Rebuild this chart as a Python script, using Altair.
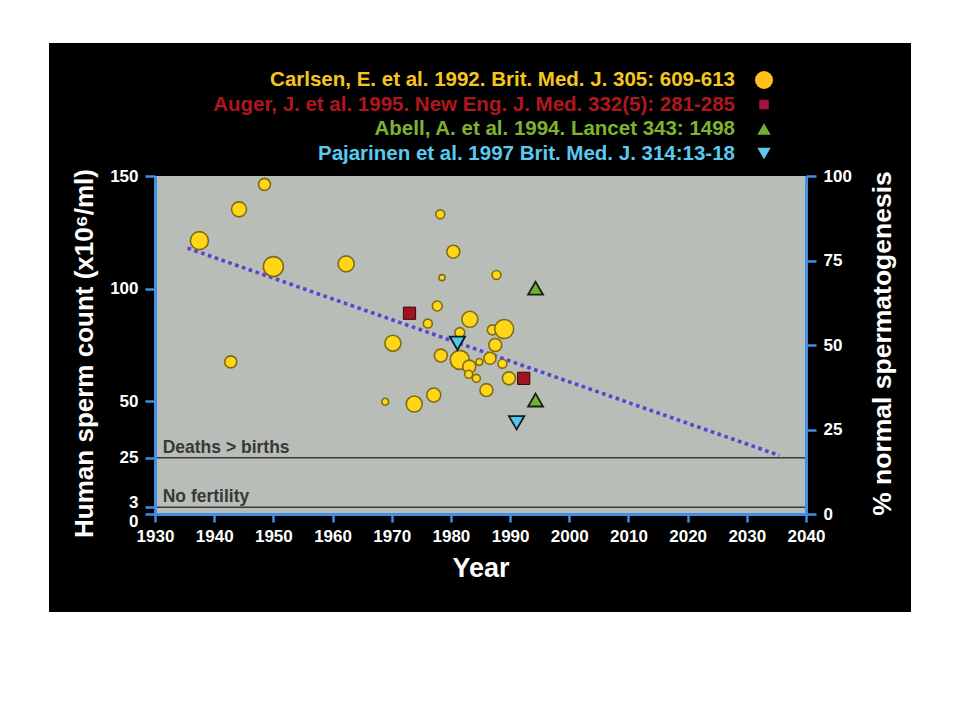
import altair as alt
import pandas as pd

W, H = 651, 338

# ---------------- data ----------------
carlsen_year = [1937.5, 1942.8, 1944.2, 1948.5, 1950.0, 1962.3, 1968.9, 1970.2, 1973.8, 1976.1,
                1977.1, 1977.7, 1978.2, 1978.3, 1978.5, 1980.4, 1981.5, 1981.5, 1983.1, 1983.0,
                1983.2, 1984.3, 1984.8, 1986.0, 1986.6, 1987.0, 1987.5, 1987.7, 1988.7, 1989.0, 1989.8]
carlsen_count = [121.3, 67.5, 135.2, 146.3, 109.8, 111.0, 49.8, 75.8, 48.8, 84.5,
                 52.8, 92.3, 133.0, 70.3, 104.9, 116.4, 80.5, 68.4, 65.4, 62.0,
                 86.4, 60.2, 67.5, 55.0, 69.1, 81.7, 75.0, 106.1, 66.7, 82.1, 60.2]
carlsen_weight = [81, 36, 56, 36, 100, 64, 12, 64, 64, 20,
                  49, 25, 20, 42, 9, 42, 25, 90, 42, 16,
                  64, 16, 12, 42, 36, 25, 42, 20, 20, 90, 42]

auger_year = [1973.0, 1992.3]
auger_count = [89.1, 60.2]
abell_year = [1994.3, 1994.3]
abell_count = [100.2, 50.6]
pajarinen_year = [1981.1, 1991.1]
pajarinen_count = [75.8, 40.5]

trend_year = [1935.5, 2035.5]
trend_count = [118.0, 26.0]

threshold_count = [25, 3]
threshold_label = ["Deaths > births", "No fertility"]

legend_labels = ["Carlsen, E. et al. 1992. Brit. Med. J. 305: 609-613",
                 "Auger, J. et al. 1995. New Eng. J. Med. 332(5): 281-285",
                 "Abell, A. et al. 1994. Lancet 343: 1498",
                 "Pajarinen et al. 1997 Brit. Med. J. 314:13-18"]
legend_text_colors = ["#f4c61e", "#b0161e", "#7db42f", "#5cc8ee"]
legend_marker_colors = ["#ffc01a", "#a8123e", "#6fae34", "#5cc8f2"]
legend_shapes = ["circle", "square", "triangle-up", "triangle-down"]
legend_marker_sizes = [324, 90, 180, 180]

x_ticks = list(range(1930, 2041, 10))
y_ticks = [0, 3, 25, 50, 100, 150]
pct_ticks = [0, 25, 50, 75, 100]

# ---------------- styles ----------------
FONT = "Liberation Sans"
AXIS_BLUE = "#3f8fe4"

x_scale = alt.Scale(domain=[1930, 2040], nice=False, zero=False)
y_scale = alt.Scale(domain=[0, 150], nice=False, zero=False)

x_axis = alt.Axis(values=x_ticks, format="d", title="Year", grid=False, zindex=2,
                  domainColor=AXIS_BLUE, domainWidth=3, tickColor=AXIS_BLUE, tickWidth=2.5,
                  tickSize=8, labelColor="white", labelFont=FONT, labelFontWeight="bold",
                  labelFontSize=17, labelPadding=6, labelFlush=False, labelOverlap=False,
                  titleColor="white", titleFont=FONT, titleFontWeight="bold", titleFontSize=27,
                  titleX=W / 2, titleY=54, titleBaseline="middle", titleAlign="center")

y_axis = alt.Axis(values=y_ticks, title="Human sperm count (x10\u2076/ml)", grid=False, zindex=2,
                  domainColor=AXIS_BLUE, domainWidth=3, tickColor=AXIS_BLUE, tickWidth=2.5,
                  tickSize=10, labelColor="white", labelFont=FONT, labelFontWeight="bold",
                  labelFontSize=17, labelPadding=7, labelFlush=False, labelOverlap=False,
                  labelOffset={"condition": [{"test": "datum.value == 3", "value": -5},
                                             {"test": "datum.value == 0", "value": 7}],
                               "value": 0},
                  titleColor="white", titleFont=FONT, titleFontWeight="bold", titleFontSize=26,
                  titleAngle=270, titleX=-71, titleY=H / 2 + 8, titleBaseline="middle",
                  titleAlign="center")

pct_axis = alt.Axis(values=pct_ticks, orient="right", title="% normal spermatogenesis",
                    grid=False, zindex=2, domainColor=AXIS_BLUE, domainWidth=3,
                    tickColor=AXIS_BLUE,
                    tickWidth=2.5, tickSize=10, labelColor="white", labelFont=FONT,
                    labelFontWeight="bold", labelFontSize=17, labelPadding=7, labelFlush=False,
                    labelOverlap=False, titleColor="white", titleFont=FONT,
                    titleFontWeight="bold", titleFontSize=26.5, titleAngle=270, titleX=76,
                    titleY=H / 2 - 2, titleBaseline="middle", titleAlign="center")

X = alt.X("year:Q", scale=x_scale, axis=x_axis)
Y = alt.Y("count:Q", scale=y_scale, axis=y_axis)

one = pd.DataFrame({"a": [0]})

# ---------------- layers ----------------
bg = alt.Chart(one).mark_rect(color="black").encode(
    x=alt.value(-106), x2=alt.value(756), y=alt.value(-133), y2=alt.value(436))
panel = alt.Chart(one).mark_rect(color="#b8bdb8").encode(
    x=alt.value(0), x2=alt.value(W), y=alt.value(0), y2=alt.value(H))

thr_df = pd.DataFrame({"count": threshold_count, "label": threshold_label,
                       "year": [1930] * 2, "year2": [2040] * 2, "tyear": [1931.3] * 2})
rules = alt.Chart(thr_df).mark_rule(color="#3a3a3a", strokeWidth=1.5).encode(
    x=X, x2="year2:Q", y=Y)
rule_text = alt.Chart(thr_df).mark_text(
    align="left", baseline="alphabetic", dy=-5, fontSize=17.5, font=FONT, fontWeight="bold",
    color="#383838").encode(
    x=alt.X("tyear:Q", scale=x_scale, axis=x_axis), y=Y, text="label:N")

trend_df = pd.DataFrame({"year": trend_year, "count": trend_count})
trend = alt.Chart(trend_df).mark_line(
    color="#5a43d2", strokeWidth=3.6, strokeDash=[3.6, 3.6], strokeCap="butt").encode(x=X, y=Y)

carlsen_df = pd.DataFrame({"year": carlsen_year, "count": carlsen_count, "w": carlsen_weight})
carlsen = alt.Chart(carlsen_df).mark_circle(
    fill="#ffd716", stroke="#7f6c18", strokeWidth=1.6, opacity=1).encode(
    x=X, y=Y,
    size=alt.Size("w:Q", scale=alt.Scale(domain=[0, 100], range=[0, 400], zero=True), legend=None))

auger = alt.Chart(pd.DataFrame({"year": auger_year, "count": auger_count})).mark_square(
    fill="#9c1622", stroke="#3a0808", strokeWidth=1, size=150, opacity=1).encode(x=X, y=Y)
abell = alt.Chart(pd.DataFrame({"year": abell_year, "count": abell_count})).mark_point(
    shape="triangle-up", filled=True, fill="#74ad3a", stroke="#15260d", strokeWidth=1.8,
    size=225, opacity=1).encode(x=X, y=Y)
paj = alt.Chart(pd.DataFrame({"year": pajarinen_year, "count": pajarinen_count})).mark_point(
    shape="triangle-down", filled=True, fill="#4fc6ee", stroke="#0e1a22", strokeWidth=1.8,
    size=235, opacity=1).encode(x=X, y=Y)

legend_layers = []
for i, (lab, tc, mc, shp, ms) in enumerate(zip(legend_labels, legend_text_colors,
                                                legend_marker_colors, legend_shapes,
                                                legend_marker_sizes)):
    ypix = -96 + i * 24.5
    ldf = pd.DataFrame({"label": [lab]})
    legend_layers.append(
        alt.Chart(ldf).mark_text(align="right", baseline="middle", fontSize=20.5, font=FONT,
                                 fontWeight="bold", color=tc).encode(
            x=alt.value(580), y=alt.value(ypix), text="label:N"))
    legend_layers.append(
        alt.Chart(ldf).mark_point(shape=shp, filled=True, fill=mc, size=ms, opacity=1,
                                  strokeWidth=0).encode(
            x=alt.value(609), y=alt.value(ypix)))

main = alt.layer(bg, panel, rules, rule_text, trend, carlsen, auger, abell, paj,
                 *legend_layers)

pct_df = pd.DataFrame({"year": [1930, 1930], "pct": [0, 100]})
right = alt.Chart(pct_df).mark_point(opacity=0).encode(
    x=X, y=alt.Y("pct:Q", scale=alt.Scale(domain=[0, 100], nice=False, zero=False),
                 axis=pct_axis))

chart = alt.layer(main, right).resolve_scale(y="independent").properties(
    width=W, height=H,
    autosize=alt.AutoSizeParams(type="none"),
    padding={"left": 147, "top": 168, "right": 120, "bottom": 110},
    background="white",
).configure_view(stroke=None)

chart.save("out.html", embed_options={"renderer": "svg", "actions": False})
